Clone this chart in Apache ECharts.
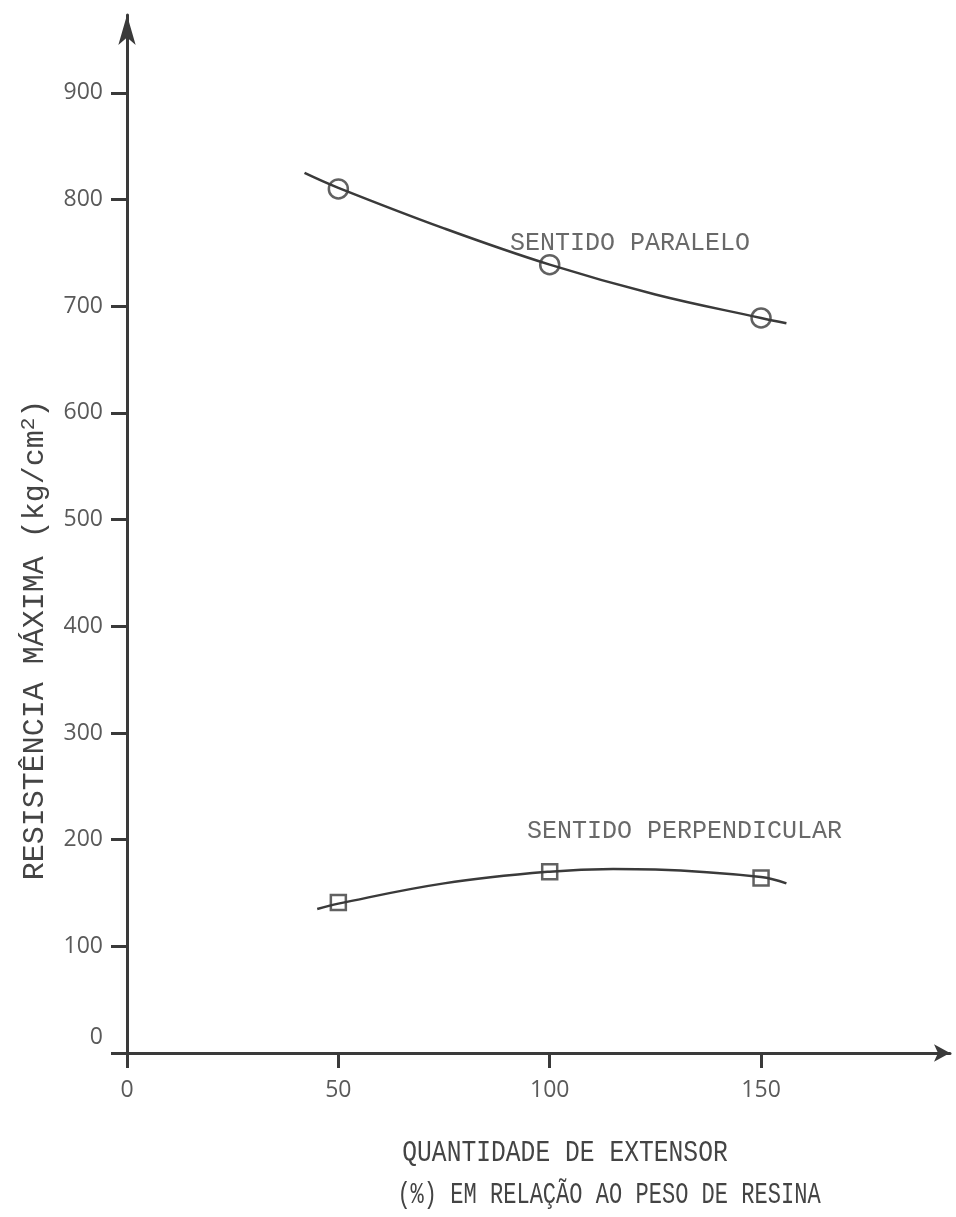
<!DOCTYPE html>
<html><head><meta charset="utf-8">
<script src="https://cdn.jsdelivr.net/npm/echarts@6/dist/echarts.min.js"></script>
<style>html,body{margin:0;padding:0;background:#fff}#c{width:956px;height:1217px}</style>
</head><body><div id="c"></div>
<script>
// ---- data ----
const xTicks = [0, 50, 100, 150];
const yTicks = [0, 100, 200, 300, 400, 500, 600, 700, 800, 900];
const paraPointsX = [50, 100, 150];
const paraPointsY = [810, 739, 689];
const perpPointsX = [50, 100, 150];
const perpPointsY = [141, 170, 164];
const paraCurveX = [42, 50, 75, 100, 125, 150, 156];
const paraCurveY = [825, 811, 773, 739, 711, 689, 684];
const perpCurveX = [45, 50, 75, 100, 115, 125, 150, 156];
const perpCurveY = [135, 140, 159, 170, 172.5, 172, 165, 159];
const seriesNames = ['SENTIDO PARALELO', 'SENTIDO PERPENDICULAR'];
const labelAnchorX = [90.5, 94.5];
const labelAnchorY = [759, 208];
const yTitleMain = 'RESISTÊNCIA MÁXIMA (kg/cm';
const yTitleSup = '2';
const yTitleEnd = ')';
const xTitleLine1 = 'QUANTIDADE DE EXTENSOR';
const xTitleLine2 = '(%) EM RELAÇÃO AO PESO DE RESINA';

const zip = (a, b) => a.map((v, i) => [v, b[i]]);
const INK = '#3a3a3a';
const TYPE = "'Liberation Mono', monospace";
const SANS = "'Open Sans', 'Noto Sans', sans-serif";

const chart = echarts.init(document.getElementById('c'));
chart.setOption({
  backgroundColor: '#fff',
  animation: false,
  grid: { left: 127, right: 6, top: 15, bottom: 164, containLabel: false, outerBoundsMode: 'none' },
  xAxis: {
    type: 'value', min: 0, max: 194.7,
    splitLine: { show: false },
    axisLine: { lineStyle: { color: INK, width: 3 }, symbol: ['none', 'arrow'], symbolSize: [13, 16] },
    axisTick: { customValues: xTicks, length: 15, lineStyle: { color: INK, width: 3 } },
    axisLabel: { customValues: xTicks, margin: 26, fontSize: 23, color: '#5a5a5a', fontFamily: SANS }
  },
  yAxis: {
    type: 'value', min: 0, max: 973,
    splitLine: { show: false },
    axisLine: { lineStyle: { color: INK, width: 3 }, symbol: ['none', 'arrow'], symbolSize: [13, 30] },
    axisTick: { customValues: yTicks, length: 16, lineStyle: { color: INK, width: 3 } },
    axisLabel: {
      customValues: yTicks, margin: 24, fontSize: 23, color: '#5a5a5a', fontFamily: SANS,
      formatter: v => v === 0 ? '{z|0}' : String(v),
      rich: { z: { fontSize: 23, color: '#5a5a5a', fontFamily: SANS, padding: [0, 0, 32, 0] } }
    }
  },
  series: [
    { type: 'line', smooth: 0.4, showSymbol: false, data: zip(paraCurveX, paraCurveY),
      lineStyle: { color: INK, width: 2.5 }, silent: true },
    { type: 'line', smooth: 0.4, showSymbol: false, data: zip(perpCurveX, perpCurveY),
      lineStyle: { color: INK, width: 2.5 }, silent: true },
    { type: 'scatter', name: seriesNames[0], symbol: 'circle', symbolSize: 19,
      data: zip(paraPointsX, paraPointsY),
      itemStyle: { color: 'rgba(0,0,0,0)', borderColor: INK, borderWidth: 2.5 } },
    { type: 'scatter', name: seriesNames[1], symbol: 'rect', symbolSize: 15,
      data: zip(perpPointsX, perpPointsY),
      itemStyle: { color: 'rgba(0,0,0,0)', borderColor: INK, borderWidth: 2.5 } },
    { type: 'scatter', symbolSize: 1, itemStyle: { color: 'rgba(0,0,0,0)' },
      data: seriesNames.map((n, i) => ({ name: n, value: [labelAnchorX[i], labelAnchorY[i]] })),
      label: { show: true, position: 'right', distance: 0, formatter: p => p.name,
        fontFamily: TYPE, fontSize: 25, color: '#444' } }
  ],
  graphic: [
    { type: 'text', x: 35, y: 640, rotation: Math.PI / 2,
      style: {
        text: '{a|' + yTitleMain + '}{s|' + yTitleSup + '}{a|' + yTitleEnd + '}',
        align: 'center', verticalAlign: 'middle',
        rich: {
          a: { fontFamily: TYPE, fontSize: 30, fill: '#444', lineHeight: 34 },
          s: { fontFamily: TYPE, fontSize: 21, fill: '#444', lineHeight: 34, verticalAlign: 'top' }
        }
      } },
    { type: 'text', x: 565, y: 1153, scaleX: 0.85,
      style: { text: xTitleLine1, fontFamily: TYPE, fontSize: 29, fill: '#444', align: 'center', verticalAlign: 'middle' } },
    { type: 'text', x: 609, y: 1195, scaleX: 0.76,
      style: { text: xTitleLine2, fontFamily: TYPE, fontSize: 29, fill: '#444', align: 'center', verticalAlign: 'middle' } }
  ]
});
</script></body></html>
